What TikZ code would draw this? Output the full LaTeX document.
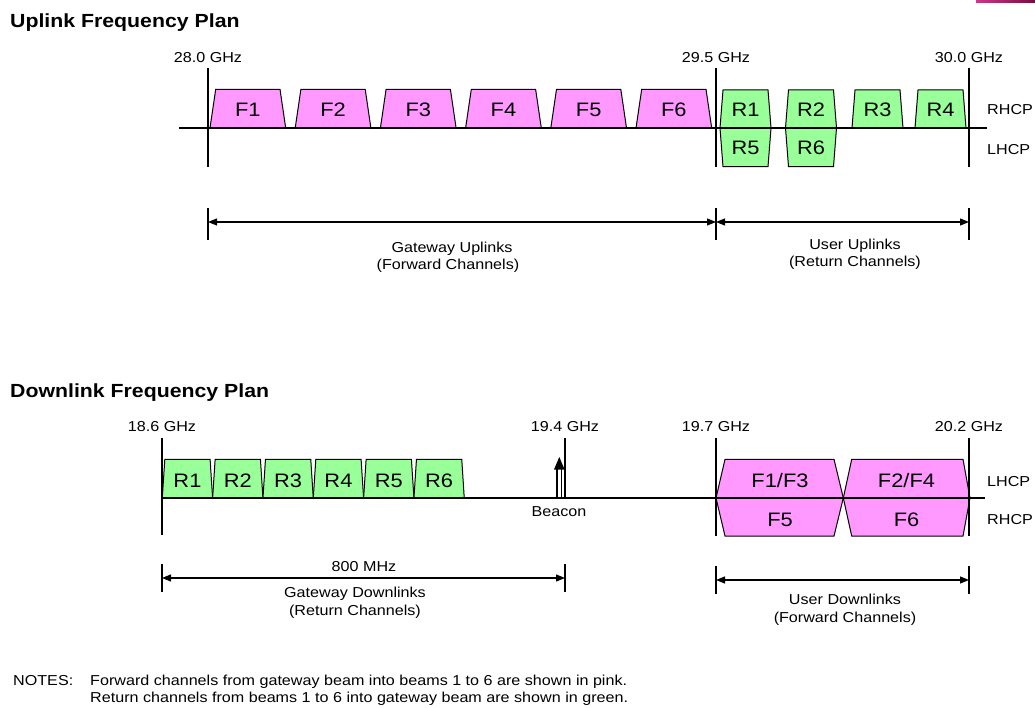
\documentclass[tikz,border=0pt]{standalone}
\usepackage{fontspec}
\setmainfont[FakeStretch=1.12]{Liberation Sans}
\usetikzlibrary{arrows.meta}
\definecolor{pinkc}{RGB}{255,153,255}
\definecolor{greenc}{RGB}{153,255,153}
\definecolor{barL}{RGB}{205,55,135}
\definecolor{barR}{RGB}{125,10,65}
\tikzset{
  axisline/.style={line width=1.2pt},
  pinkbox/.style={draw, line width=1pt, fill=pinkc, line join=miter},
  greenbox/.style={draw, line width=1pt, fill=greenc, line join=miter},
  lbl/.style={font=\fontsize{14.4}{16}\selectfont, anchor=base, inner sep=0pt},
  lblw/.style={lbl, anchor=base west},
  boxlbl/.style={font=\fontsize{19.5}{22}\selectfont, anchor=base, inner sep=0pt},
  ttl/.style={font=\bfseries\fontsize{19}{22}\selectfont, anchor=base west, inner sep=0pt},
  dimline/.style={line width=1.2pt, {Triangle[length=9pt,width=7pt]}-{Triangle[length=9pt,width=7pt]}}
}
\begin{document}
\begin{tikzpicture}[x=1pt,y=-1pt]
\useasboundingbox (0,0) rectangle (1035,708);
\shade[left color=barL, right color=barR] (976,0) rectangle (1035,3);

% ================= UPLINK =================
\node[ttl] (uptitle) at (10,27.7) {Uplink Frequency Plan};

% channel boxes
\foreach \i in {1,...,6} {
  \pgfmathsetmacro\xa{210+85.2*(\i-1)}
  \draw[pinkbox] (\xa,128) -- ++(5.7,-38.7) -- ++(64.3,0) -- ++(5.7,38.7) -- cycle;
  \node[boxlbl] (uF\i) at (\xa+37.85,117) {F\i};
}
\foreach \xa/\top/\bot in {720/R1/R5, 785.5/R2/R6} {
  \draw[greenbox] (\xa,128) -- (\xa+3,90) -- (\xa+48,90) -- (\xa+51,128)
     -- (\xa+48,166.7) -- (\xa+3,166.7) -- cycle;
  \node[boxlbl] (u\top) at (\xa+25.5,117) {\top};
  \node[boxlbl] (u\bot) at (\xa+25.5,155) {\bot};
}
\foreach \xa/\top in {852/R3, 915/R4} {
  \draw[greenbox] (\xa,128) -- (\xa+3,90) -- (\xa+48,90) -- (\xa+51,128) -- cycle;
  \node[boxlbl] (u\top) at (\xa+25.5,117) {\top};
}

% axis and frequency marks
\coordinate (uaxL) at (179,128);
\coordinate (uaxR) at (987,128);
\draw[axisline] (uaxL) -- (uaxR);
\foreach \n/\x/\t in {a/208/28.0, b/716/29.5, c/969/30.0} {
  \coordinate (ut\n) at (\x,68);
  \coordinate (ub\n) at (\x,167);
  \draw[axisline] (ut\n) -- (ub\n);
  \node[lbl] (uf\n) at (\x,62.5) {\t\ GHz};
}
\node[lblw] (urhcp) at (987,115) {RHCP};
\node[lblw] (ulhcp) at (987,154.3) {LHCP};

% dimension lines
\foreach \n/\x in {a/208, b/716, c/969} {
  \coordinate (udt\n) at (\x,208);
  \coordinate (udb\n) at (\x,240);
  \coordinate (ud\n) at (\x,222);
  \draw[axisline] (udt\n) -- (udb\n);
}
\draw[dimline] (uda) -- (udb);
\draw[dimline] (udb) -- (udc);
\node[lbl] (gwu1) at (452,252.7) {Gateway Uplinks};
\node[lbl] (gwu2) at (448,269.3) {(Forward Channels)};
\node[lbl] (usu1) at (855,250) {User Uplinks};
\node[lbl] (usu2) at (855,267) {(Return Channels)};

% ================= DOWNLINK =================
\node[ttl] (dntitle) at (10,397) {Downlink Frequency Plan};

\foreach \i in {1,...,6} {
  \pgfmathsetmacro\xa{162.3+50.33*(\i-1)}
  \draw[greenbox] (\xa,498) -- ++(2.5,-38.7) -- ++(45.3,0) -- ++(2.5,38.7) -- cycle;
  \node[boxlbl] (dR\i) at (\xa+25.15,487.3) {R\i};
}
\draw[pinkbox] (716,498) -- (725,459.3) -- (834,459.3) -- (843.3,498)
  -- (834,536) -- (725,536) -- cycle;
\draw[pinkbox] (843.3,498) -- (851.7,459.3) -- (963,459.3) -- (970,498)
  -- (963,536) -- (851.7,536) -- cycle;
\node[boxlbl] (dF13) at (780,487.3) {F1/F3};
\node[boxlbl] (dF5) at (780,526) {F5};
\node[boxlbl] (dF24) at (906.5,487.3) {F2/F4};
\node[boxlbl] (dF6) at (906.5,526) {F6};

% axis and frequency marks
\coordinate (daxL) at (162,498);
\coordinate (daxR) at (985,498);
\draw[axisline] (daxL) -- (daxR);
\foreach \n/\x/\t/\b in {a/162/18.6/535, c/716/19.7/536, d/969/20.2/536, b/565/19.4/498} {
  \coordinate (dt\n) at (\x,438);
  \coordinate (db\n) at (\x,\b);
  \draw[axisline] (dt\n) -- (db\n);
  \node[lbl] (df\n) at (\x,431) {\t\ GHz};
}
\node[lblw] (dlhcp) at (987,486) {LHCP};
\node[lblw] (drhcp) at (987,524.3) {RHCP};

% beacon
\draw[line width=1.2pt] (557,498) -- (557,467) (561.6,498) -- (561.6,467);
\fill (559.3,457) -- (554,469.5) -- (564.6,469.5) -- cycle;
\node[lbl] (beacon) at (559,516.7) {Beacon};

% dimension lines
\foreach \n/\x/\y in {a/162/578, b/565/578} {
  \coordinate (ddt\n) at (\x,\y-14);
  \coordinate (ddb\n) at (\x,\y+14);
  \coordinate (dd\n) at (\x,\y);
  \draw[axisline] (ddt\n) -- (ddb\n);
}
\foreach \n/\x/\y in {c/716/580, d/969/580} {
  \coordinate (ddt\n) at (\x,\y-14);
  \coordinate (ddb\n) at (\x,\y+14);
  \coordinate (dd\n) at (\x,\y);
  \draw[axisline] (ddt\n) -- (ddb\n);
}
\draw[dimline] (dda) -- (ddb);
\draw[dimline] (ddc) -- (ddd);
\node[lbl] (mhz) at (364,571) {800 MHz};
\node[lbl] (gwd1) at (355,597.5) {Gateway Downlinks};
\node[lbl] (gwd2) at (355,615.5) {(Return Channels)};
\node[lbl] (usd1) at (845,604) {User Downlinks};
\node[lbl] (usd2) at (845,622) {(Forward Channels)};

% ================= NOTES =================
\node[lblw] (notes) at (13,685) {NOTES:};
\node[lblw] (note1) at (90,685) {Forward channels from gateway beam into beams 1 to 6 are shown in pink.};
\node[lblw] (note2) at (90,702) {Return channels from beams 1 to 6 into gateway beam are shown in green.};
\end{tikzpicture}
\end{document}
